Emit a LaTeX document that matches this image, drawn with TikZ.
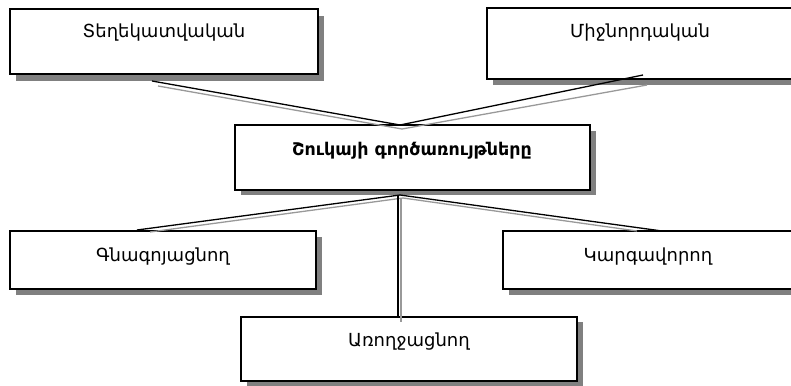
\documentclass[tikz,border=0pt]{standalone}
\usepackage{fontspec}
\setmainfont{DejaVu Sans}
\definecolor{shadowgray}{HTML}{808080}
\definecolor{linegray}{HTML}{999999}
\begin{document}
\begin{tikzpicture}[x=1pt,y=-1pt,
  box/.style={draw=black, line width=1.6pt, fill=white, anchor=north west, inner sep=0pt, outer sep=0pt},
  shade/.style={fill=shadowgray, draw=none},
  lab/.style={font=\fontsize{18}{20}\selectfont, inner sep=0pt},
  title/.style={font=\bfseries\fontsize{17.5}{20}\selectfont, inner sep=0pt},
  blk/.style={draw=black, line width=1.3pt},
  gry/.style={draw=linegray, line width=1.3pt}]
\useasboundingbox (0,0) rectangle (791,385);
% shadows
\fill[shade] (16,16) rectangle (324,81);
\fill[shade] (493,14) rectangle (810,85);
\fill[shade] (241,131) rectangle (596,195);
\fill[shade] (16,237) rectangle (322,295);
\fill[shade] (509,237) rectangle (810,295);
\fill[shade] (247,322) rectangle (583,386);
% boxes
\node[box, minimum width=308pt, minimum height=65pt] (A) at (10,9) {};
\node[box, minimum width=320pt, minimum height=71pt] (B) at (487,8) {};
\node[box, minimum width=355pt, minimum height=65pt] (C) at (235,125) {};
\node[box, minimum width=306pt, minimum height=58pt] (D) at (10,231) {};
\node[box, minimum width=300pt, minimum height=58pt] (E) at (503,231) {};
\node[box, minimum width=336pt, minimum height=64pt] (F) at (241,317) {};
% labels
\node[lab] (At) at (164,33) {Տեղեկատվական};
\node[lab] (Bt) at (640,33) {Միջնորդական};
\node[title] (Ct) at (412,151) {Շուկայի գործառույթները};
\node[lab] (Dt) at (163,257) {Գնագոյացնող};
\node[lab] (Et) at (648,257) {Կարգավորող};
\node[lab] (Ft) at (409,342) {Առողջացնող};
% connector end points
\coordinate (a1) at (152,81);   \coordinate (a2) at (158,86);
\coordinate (b1) at (643,75);   \coordinate (b2) at (647,85);
\coordinate (c1) at (400,125);  \coordinate (c2) at (402,129);
\coordinate (c3) at (400,195);  \coordinate (c4) at (403,198);
\coordinate (c5) at (398,195);  \coordinate (c6) at (401,198);
\coordinate (d1) at (137,230);  \coordinate (d2) at (150,232);
\coordinate (e1) at (662,231);  \coordinate (e2) at (637,231);
\coordinate (f1) at (398,318);  \coordinate (f2) at (401,322);
% connectors
\draw[gry] (a2) -- (c2) -- (b2);
\draw[blk] (a1) -- (c1) -- (b1);
\draw[gry] (d2) -- (c4) -- (e2);
\draw[gry] (c6) -- (f2);
\draw[blk] (d1) -- (c3) -- (e1);
\draw[blk] (c5) -- (f1);
\end{tikzpicture}
\end{document}
